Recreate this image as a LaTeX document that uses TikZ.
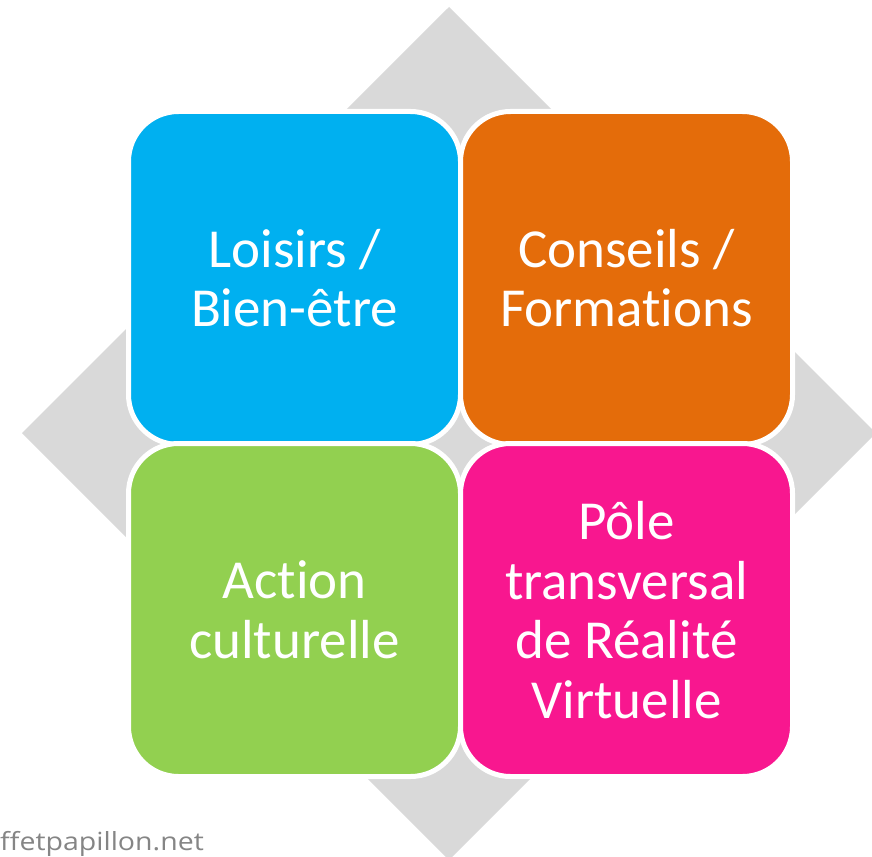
\documentclass[tikz,border=0pt]{standalone}
\usepackage{fontspec}
\usepackage{graphicx}
\setmainfont{Carlito}[Ligatures=NoCommon]
\newfontfamily\wmfont{Open Sans}
\definecolor{cblue}{HTML}{00B0F0}
\definecolor{corange}{HTML}{E46C0A}
\definecolor{cgreen}{HTML}{92D050}
\definecolor{cpink}{HTML}{F8178F}
\definecolor{cgray}{HTML}{D9D9D9}
\definecolor{wmgray}{HTML}{858585}
\tikzset{
  tile/.style={rectangle, rounded corners=50pt, draw=white, line width=5pt,
    minimum width=332pt, minimum height=333pt, text=white, align=center,
    inner sep=0pt, font=\fontsize{55}{59.5}\selectfont},
}
\begin{document}
\begin{tikzpicture}[x=1pt,y=-1pt]
\useasboundingbox (0,0) rectangle (872,856);
\clip (0,0) rectangle (872,856);
\fill[white] (0,0) rectangle (872,856);
\fill[cgray] (449,7) -- (876,433) -- (449,860) -- (22,433) -- cycle;
\node[tile, fill=cblue]   (loisirs)  at (294.5,278) {Loisirs /\\Bien-être};
\node[tile, fill=corange] (conseils) at (626.5,278) {Conseils /\\Formations};
\node[tile, fill=cgreen]  (action)   at (294.5,610) {Action\\culturelle};
\node[tile, fill=cpink]   (pole)     at (626.5,610) {Pôle\\transversal\\de Réalité\\Virtuelle};
\node[anchor=base west, inner sep=0pt, text=wmgray, font=\wmfont\fontsize{25}{28}\selectfont] (wm) at (0,850) {\scalebox{1.14}[1]{ffetpapillon.net}};
\end{tikzpicture}
\end{document}
